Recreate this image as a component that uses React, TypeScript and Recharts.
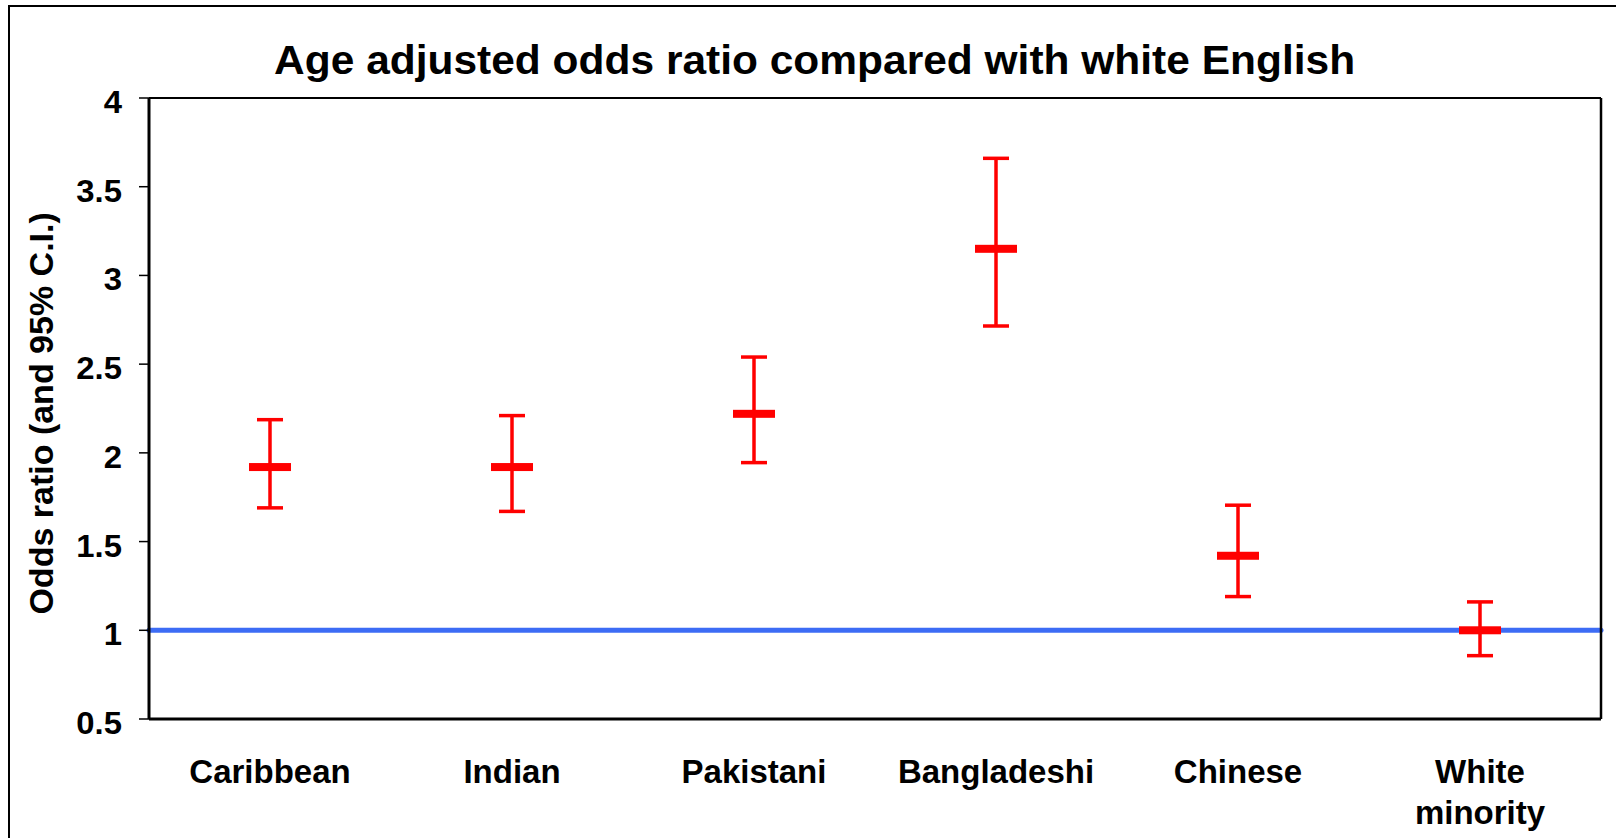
import React from 'react';
import {
  ComposedChart,
  Scatter,
  ErrorBar,
  XAxis,
  YAxis,
  CartesianGrid,
  ReferenceLine,
} from 'recharts';

const categories = ['Caribbean', 'Indian', 'Pakistani', 'Bangladeshi', 'Chinese', 'White minority'];
const oddsRatio = [1.92, 1.92, 2.22, 3.15, 1.42, 1.0];
const ciLower = [1.69, 1.67, 1.945, 2.715, 1.19, 0.857];
const ciUpper = [2.187, 2.21, 2.54, 3.66, 1.705, 1.16];
const yTicks = [0.5, 1, 1.5, 2, 2.5, 3, 3.5, 4];
const referenceValue = 1;

const titleText = 'Age adjusted odds ratio compared with white English';
const yLabelText = 'Odds ratio (and 95% C.I.)';

const data = categories.map((name, i) => ({
  name,
  mean: oddsRatio[i],
  err: [oddsRatio[i] - ciLower[i], ciUpper[i] - oddsRatio[i]],
}));

const FONT = '"Liberation Sans", Arial, Helvetica, sans-serif';
const RED = '#FF0000';
const BLUE = '#3D6CF5';

const YTick = (props: any) => {
  const { x, y, payload } = props;
  return (
    <text
      x={x}
      y={y + 15}
      textAnchor="end"
      fontSize={31}
      fontWeight="bold"
      fontFamily={FONT}
      fill="#000"
      transform={`translate(${x} 0) scale(1.06 1) translate(${-x} 0)`}
    >
      {String(payload.value)}
    </text>
  );
};

const XTick = (props: any) => {
  const { x, y, payload } = props;
  const lines = String(payload.value).split(' ');
  return (
    <text textAnchor="middle" fontSize={33} fontWeight="bold" fontFamily={FONT} fill="#000">
      {lines.map((l, i) => (
        <tspan key={i} x={x} y={y + 64 + i * 41}>
          {l}
        </tspan>
      ))}
    </text>
  );
};

const MeanMarker = (props: any) => {
  const { cx, cy } = props;
  if (cx == null || cy == null) return null;
  return <rect x={cx - 21} y={cy - 4} width={42} height={8} fill={RED} />;
};

export default function App() {
  return (
    <div
      style={{
        position: 'absolute',
        left: 0,
        top: 0,
        width: 1616,
        height: 838,
        overflow: 'hidden',
        background: '#fff',
      }}
    >
      <ComposedChart
        width={1616}
        height={838}
        data={data}
        margin={{ top: 98, right: 0, bottom: 0, left: 0 }}
      >
        <CartesianGrid horizontal vertical={false} stroke="#000" strokeWidth={2} />
        <XAxis
          dataKey="name"
          type="category"
          scale="band"
          height={119}
          tickLine={false}
          tickSize={0}
          tickMargin={0}
          interval={0}
          axisLine={{ stroke: '#000', strokeWidth: 3 }}
          tick={<XTick />}
        />
        <YAxis
          yAxisId="left"
          type="number"
          domain={[0.5, 4]}
          ticks={yTicks}
          interval={0}
          width={149}
          tickSize={10}
          tickMargin={17}
          tickLine={{ stroke: '#000', strokeWidth: 1.5 }}
          axisLine={{ stroke: '#000', strokeWidth: 3 }}
          tick={<YTick />}
        />
        <YAxis
          yAxisId="right"
          orientation="right"
          type="number"
          domain={[0.5, 4]}
          width={15}
          tick={false}
          tickLine={false}
          axisLine={{ stroke: '#000', strokeWidth: 2.5 }}
        />
        <ReferenceLine
          yAxisId="left"
          y={referenceValue}
          stroke={BLUE}
          strokeWidth={5}
          strokeLinecap="round"
        />
        <Scatter
          yAxisId="left"
          dataKey="mean"
          fill={RED}
          shape={<MeanMarker />}
          isAnimationActive={false}
        >
          <ErrorBar
            dataKey="err"
            direction="y"
            width={13}
            stroke={RED}
            strokeWidth={3.5}
            isAnimationActive={false}
          />
        </Scatter>
      </ComposedChart>
      <svg
        width={1616}
        height={838}
        style={{ position: 'absolute', left: 0, top: 0, pointerEvents: 'none' }}
      >
        <rect x={9} y={6} width={1700} height={900} fill="none" stroke="#000" strokeWidth={2} />
        <text
          x={814.6}
          y={74}
          textAnchor="middle"
          fontSize={40}
          fontWeight="bold"
          fontFamily={FONT}
          fill="#000"
          textLength={1081}
          lengthAdjust="spacingAndGlyphs"
        >
          {titleText}
        </text>
        <text
          x={53}
          y={413.4}
          transform="rotate(-90 53 413.4)"
          textAnchor="middle"
          fontSize={34}
          fontWeight="bold"
          fontFamily={FONT}
          fill="#000"
        >
          {yLabelText}
        </text>
      </svg>
    </div>
  );
}
